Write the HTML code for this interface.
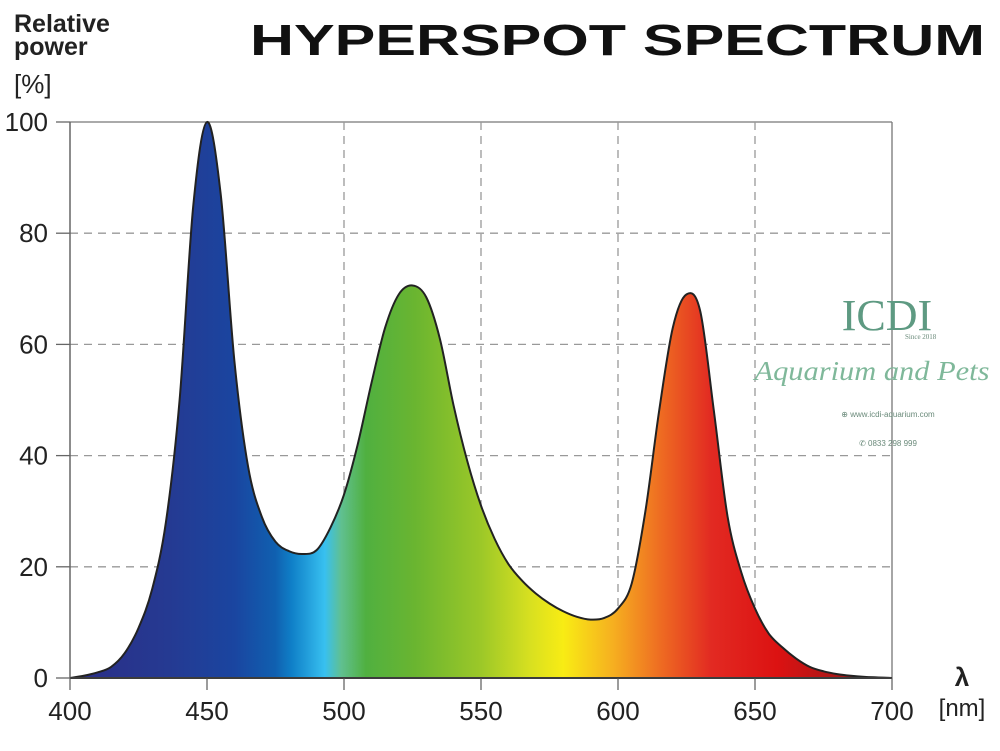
<!DOCTYPE html>
<html><head><meta charset="utf-8"><style>
html,body{margin:0;padding:0;background:#fff;}
svg{display:block;font-family:"Liberation Sans",Arial,sans-serif;}
</style></head><body>
<svg id="chart" width="1000" height="751" viewBox="0 0 1000 751">
<defs>
<linearGradient id="spec" gradientUnits="userSpaceOnUse" x1="70" y1="0" x2="892" y2="0">
<stop offset="0" stop-color="#2b2d86"/>
<stop offset="0.12" stop-color="#253a92"/>
<stop offset="0.2" stop-color="#1a45a0"/>
<stop offset="0.25" stop-color="#1060b0"/>
<stop offset="0.27" stop-color="#0f80c8"/>
<stop offset="0.31" stop-color="#38c0f0"/>
<stop offset="0.33" stop-color="#60c090"/>
<stop offset="0.36" stop-color="#50b040"/>
<stop offset="0.42" stop-color="#6ab530"/>
<stop offset="0.5" stop-color="#9cc828"/>
<stop offset="0.56" stop-color="#d8e020"/>
<stop offset="0.6" stop-color="#f8ec14"/>
<stop offset="0.66" stop-color="#f6b020"/>
<stop offset="0.72" stop-color="#ee6a22"/>
<stop offset="0.78" stop-color="#e22a22"/>
<stop offset="0.86" stop-color="#dc1212"/>
<stop offset="0.95" stop-color="#a01818"/>
<stop offset="1" stop-color="#801818"/>
</linearGradient>
</defs>
<text x="14" y="32" font-size="25" font-weight="bold" fill="#222">Relative</text>
<text x="14" y="55" font-size="25" font-weight="bold" fill="#222">power</text>
<text x="14" y="93" font-size="26" fill="#222">[%]</text>
<text x="250" y="55" font-size="44" font-weight="bold" fill="#111" textLength="735" lengthAdjust="spacingAndGlyphs">HYPERSPOT SPECTRUM</text>
<g id="grid"></g>
<path id="curve" fill="url(#spec)" stroke="#222" stroke-width="2" d=""/>
<g id="axes"></g>
<text x="962" y="686" font-size="26" font-weight="bold" fill="#222" text-anchor="middle">λ</text>
<text x="962" y="716" font-size="24" fill="#222" text-anchor="middle">[nm]</text>
<g>
<text x="887" y="330" font-family="Liberation Serif,serif" font-size="44" text-anchor="middle" fill="#5e9a82">ICDI</text>
<text x="905" y="339" font-family="Liberation Serif,serif" font-size="7" fill="#6a8a7a">Since 2018</text>
<text x="872" y="380" font-family="Liberation Serif,serif" font-style="italic" font-size="27" text-anchor="middle" fill="#7fb89a" textLength="235" lengthAdjust="spacingAndGlyphs">Aquarium and Pets</text>
<text x="888" y="417" font-size="8" text-anchor="middle" fill="#6a8a7a">⊕ www.icdi-aquarium.com</text>
<text x="888" y="446" font-size="8" text-anchor="middle" fill="#6a8a7a">✆ 0833 298 999</text>
</g>
</svg>
<script>
var wavelengths=[400,405,410,415,420,425,430,435,440,445,450,455,460,465,470,475,480,485,490,495,500,505,510,515,520,525,530,535,540,545,550,555,560,565,570,575,580,585,590,595,600,605,610,615,620,625,630,635,640,645,650,655,660,665,670,675,680,685,690,695,700];
var power=[0,0.4,1,2,4.5,9,16,28,50,85,100,87,57,38,29,24.5,22.8,22.3,23,27,33,42,53,63,69,70.6,68.5,61,49,39,31,25,20.5,17.5,15.2,13.4,12,11,10.5,10.8,12.5,17,30,48,63,69,66,48,29,19,12.5,8,5.5,3.5,2,1.2,0.7,0.4,0.2,0.1,0];
var xTicks=[400,450,500,550,600,650,700];
var yTicks=[0,20,40,60,80,100];
var X0=70,X1=892,Y0=678,Y1=122;
function xs(v){return X0+(v-400)/300*(X1-X0);}
function ys(v){return Y0-v/100*(Y0-Y1);}
var NS="http://www.w3.org/2000/svg";
var grid=document.getElementById('grid'),axes=document.getElementById('axes');
function mk(tag,attrs,parent){var e=document.createElementNS(NS,tag);for(var k in attrs)e.setAttribute(k,attrs[k]);parent.appendChild(e);return e;}
yTicks.forEach(function(t){
  if(t>0){var l=mk('line',{x1:X0,x2:X1,y1:ys(t),y2:ys(t),stroke:t===100?'#777':'#999','stroke-width':1.3,'stroke-dasharray':t===100?'0':'8,6'},grid);
  
  }
  var tk=mk('line',{x1:X0-14,x2:X0,y1:ys(t),y2:ys(t),stroke:'#666','stroke-width':1.3},axes);
  
  
  var tx=mk('text',{x:X0-22,y:ys(t)+9,'font-size':26,fill:'#222','text-anchor':'end'},axes);
  tx.textContent=t;
  
  
});
xTicks.forEach(function(t){
  if(t>400){var l=mk('line',{x1:xs(t),x2:xs(t),y1:Y1,y2:Y0,stroke:t===700?'#777':'#999','stroke-width':1.3,'stroke-dasharray':t===700?'0':'8,6'},grid);
  
  }
  var tk=mk('line',{x1:xs(t),x2:xs(t),y1:Y0,y2:Y0+12,stroke:'#666','stroke-width':1.3},axes);
  
  
  var tx=mk('text',{x:xs(t),y:Y0+42,'font-size':26,fill:'#222','text-anchor':'middle'},axes);
  tx.textContent=t;
  
  
});
var ya=mk('line',{x1:X0,x2:X0,y1:Y1,y2:Y0,stroke:'#666','stroke-width':1.5},axes);


var xa=mk('line',{x1:X0,x2:X1,y1:Y0,y2:Y0,stroke:'#444','stroke-width':1.5},axes);


var pts=wavelengths.map(function(w,i){return [xs(w),ys(power[i])];});
var d='M'+pts[0][0]+','+pts[0][1];
for(var i=0;i<pts.length-1;i++){
  var p0=pts[Math.max(0,i-1)],p1=pts[i],p2=pts[i+1],p3=pts[Math.min(pts.length-1,i+2)];
  var c1x=p1[0]+(p2[0]-p0[0])/6,c1y=Math.min(p1[1]+(p2[1]-p0[1])/6,Y0);
  var c2x=p2[0]-(p3[0]-p1[0])/6,c2y=Math.min(p2[1]-(p3[1]-p1[1])/6,Y0);
  d+=' C'+c1x+','+c1y+' '+c2x+','+c2y+' '+p2[0]+','+p2[1];
}
d+=' Z';
document.getElementById('curve').setAttribute('d',d);
</script>
</body></html>
